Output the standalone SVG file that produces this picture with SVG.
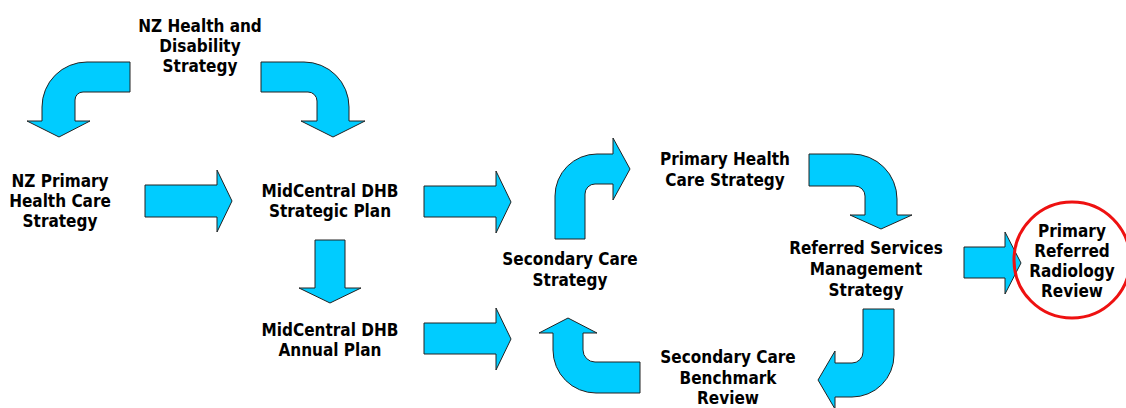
<svg xmlns="http://www.w3.org/2000/svg" width="1126" height="408" viewBox="0 0 1126 408">
<style>
.arr{fill:#00ccff;stroke:#222;stroke-width:1;stroke-linejoin:miter}
text{font-family:"DejaVu Sans Condensed","DejaVu Sans",Verdana,sans-serif;font-stretch:condensed;font-weight:bold;font-size:17px;fill:#000;text-anchor:middle}
</style>
<rect width="1126" height="408" fill="#fff"/>
<g id="connectors">
<path class="arr" d="M130,62 L87,62 A45,45 0 0 0 42,107 L42,121 L27,121 L59,137 L90,121 L75,121 L75,100 A8,8 0 0 1 83,92 L130,92 Z"/>
<path class="arr" d="M261,62 L304,62 A45,45 0 0 1 349,107 L349,121 L365,121 L333,137 L301,121 L317,121 L317,101 A9,9 0 0 0 308,92 L261,92 Z"/>
<path class="arr" d="M145,185 L217,185 L217,170 L232,201 L217,232 L217,217 L145,217 Z"/>
<path class="arr" d="M424,186 L496,186 L496,171 L511,202 L496,233 L496,217 L424,217 Z"/>
<path class="arr" d="M424,323 L496,323 L496,308 L511,339 L496,370 L496,354 L424,354 Z"/>
<path class="arr" d="M964,247 L1005,247 L1005,232 L1021,263 L1005,294 L1005,278 L964,278 Z"/>
<path class="arr" d="M315,240 L345,240 L345,288 L361,288 L330,303 L299,288 L315,288 Z"/>
<path class="arr" d="M555,239 L555,196 A42,42 0 0 1 597,154 L613,154 L613,138 L630,169 L613,200 L613,184 L595,184 A10,10 0 0 0 585,194 L585,239 Z"/>
<path class="arr" d="M809,154 L852,154 A45,45 0 0 1 897,199 L897,215 L912,215 L881,229 L850,215 L865,215 L865,196 A10,10 0 0 0 855,186 L809,186 Z"/>
<path class="arr" d="M863,309 L894,309 L894,355 A42,42 0 0 1 852,397 L835,397 L835,409 L818,380 L835,351 L835,363 L852,363 A11,11 0 0 0 863,352 Z"/>
<path class="arr" d="M640,362 L640,393 L596,393 A43,43 0 0 1 553,350 L553,333 L539,333 L568,318 L597,333 L583,333 L583,350 A12,12 0 0 0 595,362 Z"/>
</g>
<g id="nz-health-disability"><text x="200" y="32">NZ Health and</text><text x="200" y="52">Disability</text><text x="200" y="72">Strategy</text></g>
<g id="nz-primary"><text x="60" y="187">NZ Primary</text><text x="60" y="207">Health Care</text><text x="60" y="227">Strategy</text></g>
<g id="strategic-plan"><text x="330" y="197">MidCentral DHB</text><text x="330" y="217">Strategic Plan</text></g>
<g id="annual-plan"><text x="330" y="336">MidCentral DHB</text><text x="330" y="356">Annual Plan</text></g>
<g id="secondary-care-strategy"><text x="570" y="265">Secondary Care</text><text x="570" y="286">Strategy</text></g>
<g id="primary-health-care"><text x="725" y="165">Primary Health</text><text x="725" y="186">Care Strategy</text></g>
<g id="referred-services"><text x="866" y="254">Referred Services</text><text x="866" y="275">Management</text><text x="866" y="296">Strategy</text></g>
<g id="benchmark"><text x="728" y="363">Secondary Care</text><text x="728" y="384">Benchmark</text><text x="728" y="404">Review</text></g>
<g id="radiology-review">
<circle cx="1072" cy="260" r="58" fill="none" stroke="#ee1111" stroke-width="3"/>
<text x="1072" y="237">Primary</text><text x="1072" y="257">Referred</text><text x="1072" y="277">Radiology</text><text x="1072" y="297">Review</text>
</g>
</svg>
